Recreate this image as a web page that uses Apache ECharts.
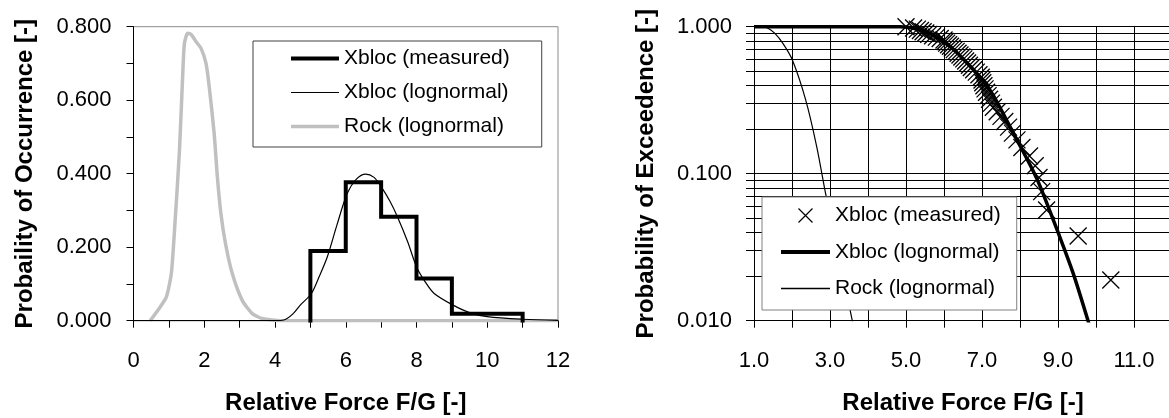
<!DOCTYPE html>
<html><head><meta charset="utf-8">
<script src="https://cdn.jsdelivr.net/npm/echarts@6/dist/echarts.min.js"></script>
<style>html,body{margin:0;padding:0;background:#fff}#c{width:1169px;height:418px}</style>
</head><body><div id="c"></div>
<script>
const FONT = '"Liberation Sans", Arial, sans-serif';

// ---------- Left chart: probability of occurrence ----------
const leftXTicks = [0, 2, 4, 6, 8, 10, 12];
const histEdges = [5, 6, 7, 8, 9, 10, 11];
const histValues = [0.19, 0.377, 0.283, 0.115, 0.019, 0.019];
const xblocPdfX = [0, 4.0, 4.25, 4.5, 4.72, 5.03, 5.25, 5.48, 5.75, 6.04, 6.3, 6.56, 6.8, 7.0, 7.25, 7.46, 7.75, 8.0, 8.25, 8.5, 9.02, 9.5, 10.0, 11.0, 12.0];
const xblocPdfY = [0, 0, 0.002, 0.018, 0.043, 0.074, 0.12, 0.174, 0.26, 0.346, 0.385, 0.399, 0.39, 0.365, 0.325, 0.283, 0.215, 0.147, 0.105, 0.074, 0.043, 0.022, 0.011, 0.004, 0.001];
const rockPdfX = [0.47, 0.7, 0.93, 1.07, 1.16, 1.3, 1.4, 1.44, 1.53, 1.63, 1.77, 1.91, 2.05, 2.14, 2.28, 2.37, 2.47, 2.6, 2.79, 3.07, 3.35, 3.63, 4.19, 12];
const rockPdfY = [0, 0.03, 0.065, 0.129, 0.247, 0.464, 0.69, 0.755, 0.782, 0.779, 0.759, 0.741, 0.7, 0.637, 0.51, 0.392, 0.292, 0.21, 0.129, 0.056, 0.02, 0.006, 0, 0];

// ---------- Right chart: probability of exceedence ----------
const rightXLabels = [1, 3, 5, 7, 9, 11];
const rightYLabels = [0.01, 0.1, 1];
const rightYTicks = [0.01, 0.02, 0.03, 0.04, 0.05, 0.06, 0.07, 0.08, 0.09, 0.1, 0.2, 0.3, 0.4, 0.5, 0.6, 0.7, 0.8, 0.9, 1];
const measX = [5.0, 5.2, 5.3, 5.38, 5.45, 5.52, 5.6, 5.7, 5.8, 5.9,
  6.0, 6.03, 6.07, 6.12, 6.17, 6.22, 6.27, 6.32, 6.37, 6.42, 6.47, 6.52, 6.57, 6.62, 6.67, 6.72, 6.78, 6.85, 6.92, 6.98,
  7.0, 7.02, 7.05, 7.08, 7.12, 7.16, 7.2, 7.25, 7.3, 7.4, 7.5, 7.6, 7.7, 7.8, 7.92,
  8.05, 8.25, 8.4, 8.5, 8.57, 8.7, 9.53, 10.39];
const measP = [1.0, 0.9811, 0.9623, 0.9434, 0.9245, 0.9057, 0.8868, 0.8679, 0.8491, 0.8302,
  0.8113, 0.7925, 0.7736, 0.7547, 0.7358, 0.717, 0.6981, 0.6792, 0.6604, 0.6415, 0.6226, 0.6038, 0.5849, 0.566, 0.5472, 0.5283, 0.5094, 0.4906, 0.4717, 0.4528,
  0.434, 0.4151, 0.3962, 0.3774, 0.3585, 0.3396, 0.3208, 0.3019, 0.283, 0.2642, 0.2453, 0.2264, 0.2075, 0.1887, 0.1698,
  0.1509, 0.1321, 0.1132, 0.0943, 0.0755, 0.0566, 0.0377, 0.0189];
const xblocCdfX = [1, 4.6, 4.85, 5.2, 5.63, 6.0, 6.25, 6.5, 7.0, 7.3, 7.67, 8.0, 8.35, 8.53, 9.0, 9.4, 9.79, 10.0];
const xblocCdfP = [1, 1, 0.998, 0.975, 0.9, 0.785, 0.7, 0.605, 0.44, 0.34, 0.225, 0.155, 0.104, 0.082, 0.04, 0.021, 0.01, 0.0065];
const rockCdfX = [1, 1.25, 1.37, 1.55, 1.76, 2.01, 2.36, 2.65, 2.9, 3.2, 3.57, 3.75];
const rockCdfP = [1, 1, 0.975, 0.9, 0.77, 0.594, 0.318, 0.153, 0.07, 0.031, 0.0105, 0.0065];

const zip = (a, b) => a.map((v, i) => [v, b[i]]);
const stepData = [[histEdges[0], 0]];
histValues.forEach((v, i) => { stepData.push([histEdges[i], v]); stepData.push([histEdges[i + 1], v]); });
stepData.push([histEdges[histEdges.length - 1], 0]);

const CROSS = 'path://M0,0L10,10M10,0L0,10';
const LINE_THICK = 'path://M0,0H50V4H0Z';
const LINE_THIN = 'path://M0,0H50V1.3H0Z';
const LINE_GREY = 'path://M0,0H50V3.5H0Z';

const labelStyle = { color: '#000', fontFamily: FONT, fontSize: 22 };
const nameStyle = { color: '#000', fontFamily: FONT, fontSize: 24, fontWeight: 'bold' };
const blackLine = { show: true, lineStyle: { color: '#000', width: 1 } };

const chart = echarts.init(document.getElementById('c'));
chart.setOption({
  animation: false,
  backgroundColor: '#fff',
  grid: [
    { left: 133.5, top: 26.7, right: 611, bottom: 97.3, show: true, borderColor: '#8c8c8c', borderWidth: 1, outerBoundsMode: 'none' },
    { left: 754, top: 26.7, right: -3, bottom: 97.3, outerBoundsMode: 'none' }
  ],
  legend: [
    {
      orient: 'vertical', left: 253, top: 41, padding: [7, 32, 10, 38],
      itemWidth: 48, itemHeight: 14, itemGap: 13, selectedMode: false,
      borderColor: '#404040', borderWidth: 1, backgroundColor: '#fff',
      textStyle: { color: '#000', fontFamily: FONT, fontSize: 21 },
      data: [
        { name: 'Xbloc (measured)', icon: LINE_THICK, itemStyle: { color: '#000', borderWidth: 0 } },
        { name: 'Xbloc (lognormal)', icon: LINE_THIN, itemStyle: { color: '#000', borderWidth: 0 } },
        { name: 'Rock (lognormal)', icon: LINE_GREY, itemStyle: { color: '#c0c0c0', borderWidth: 0 } }
      ]
    },
    {
      orient: 'vertical', left: 762, top: 197, padding: [8, 16, 11, 19],
      itemWidth: 49, itemHeight: 14, itemGap: 15.5, selectedMode: false,
      borderColor: '#808080', borderWidth: 1, backgroundColor: '#fff',
      textStyle: { color: '#000', fontFamily: FONT, fontSize: 21 },
      formatter: n => n.replace(/^R:/, ''),
      data: [
        { name: 'R:Xbloc (measured)', icon: CROSS, itemStyle: { color: 'transparent', borderColor: '#000', borderWidth: 1.2, opacity: 1 } },
        { name: 'R:Xbloc (lognormal)', icon: LINE_THICK, itemStyle: { color: '#000', borderWidth: 0 } },
        { name: 'R:Rock (lognormal)', icon: LINE_THIN, itemStyle: { color: '#000', borderWidth: 0 } }
      ]
    }
  ],
  xAxis: [
    {
      gridIndex: 0, type: 'value', min: 0, max: 12, interval: 2,
      name: 'Relative Force F/G [-]', nameLocation: 'middle', nameGap: 71, nameTextStyle: nameStyle,
      axisLine: blackLine, axisTick: { show: true, length: 7, lineStyle: { color: '#000' } },
      minorTick: { show: true, splitNumber: 2, length: 7, lineStyle: { color: '#000' } },
      axisLabel: Object.assign({ margin: 29, formatter: v => leftXTicks.includes(v) ? String(v) : '' }, labelStyle),
      splitLine: { show: false }
    },
    {
      gridIndex: 1, type: 'value', min: 1, max: 12, interval: 1,
      name: 'Relative Force F/G [-]', nameLocation: 'middle', nameGap: 71, nameTextStyle: nameStyle,
      axisLine: blackLine, axisTick: { show: true, length: 7, lineStyle: { color: '#000' } },
      axisLabel: Object.assign({ margin: 29, showMaxLabel: false, formatter: v => rightXLabels.includes(v) ? v.toFixed(1) : '' }, labelStyle),
      splitLine: { show: true, lineStyle: { color: '#000', width: 1 } }
    }
  ],
  yAxis: [
    {
      gridIndex: 0, type: 'value', min: 0, max: 0.8, interval: 0.2,
      name: 'Probaility of Occurrence [-]', nameLocation: 'middle', nameGap: 96, nameTextStyle: nameStyle,
      axisLine: blackLine, axisTick: { show: true, length: 7, lineStyle: { color: '#000' } },
      minorTick: { show: true, splitNumber: 2, length: 7, lineStyle: { color: '#000' } },
      axisLabel: Object.assign({ margin: 22, formatter: v => v.toFixed(3) }, labelStyle),
      splitLine: { show: false }
    },
    {
      gridIndex: 1, type: 'log', logBase: 10, min: 0.01, max: 1,
      name: 'Probability of Exceedence [-]', nameLocation: 'middle', nameGap: 96, nameTextStyle: nameStyle,
      axisLine: blackLine,
      axisTick: { show: true, length: 8, customValues: rightYTicks, lineStyle: { color: '#000' } },
      axisLabel: Object.assign({ margin: 22, customValues: rightYLabels, formatter: v => v.toFixed(3) }, labelStyle),
      splitLine: { show: true, lineStyle: { color: '#000', width: 1 } }
    }
  ],
  series: [
    { name: 'Rock (lognormal)', type: 'line', xAxisIndex: 0, yAxisIndex: 0, data: zip(rockPdfX, rockPdfY),
      symbol: 'none', smooth: 0.2, lineStyle: { color: '#c0c0c0', width: 3.5 }, itemStyle: { color: '#c0c0c0' } },
    { name: 'Xbloc (lognormal)', type: 'line', xAxisIndex: 0, yAxisIndex: 0, data: zip(xblocPdfX, xblocPdfY),
      symbol: 'none', smooth: 0.3, lineStyle: { color: '#000', width: 1.2 }, itemStyle: { color: '#000' } },
    { name: 'Xbloc (measured)', type: 'line', xAxisIndex: 0, yAxisIndex: 0, data: stepData,
      symbol: 'none', lineStyle: { color: '#000', width: 4, join: 'miter', cap: 'square' }, itemStyle: { color: '#000' } },

    { name: 'R:Rock (lognormal)', type: 'line', xAxisIndex: 1, yAxisIndex: 1, data: zip(rockCdfX, rockCdfP),
      symbol: 'none', smooth: 0.3, lineStyle: { color: '#000', width: 1.2 }, itemStyle: { color: '#000' } },
    { name: 'R:Xbloc (lognormal)', type: 'line', xAxisIndex: 1, yAxisIndex: 1, data: zip(xblocCdfX, xblocCdfP),
      symbol: 'none', smooth: 0.3, lineStyle: { color: '#000', width: 3.5 }, itemStyle: { color: '#000' } },
    { name: 'R:Xbloc (measured)', type: 'scatter', xAxisIndex: 1, yAxisIndex: 1, data: zip(measX, measP),
      symbol: CROSS, symbolSize: 17, clip: false,
      itemStyle: { color: 'transparent', borderColor: '#000', borderWidth: 1.3, opacity: 1 } }
  ]
});
</script>
</body></html>
